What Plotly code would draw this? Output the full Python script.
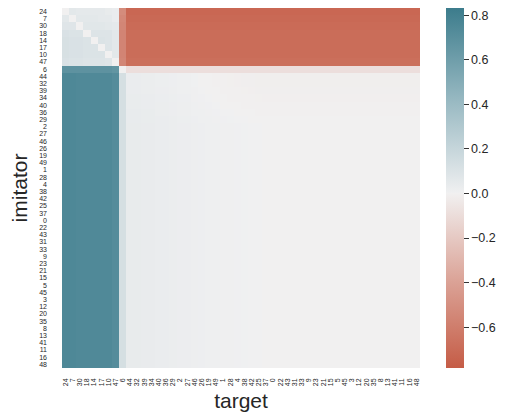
import plotly.graph_objects as go

# ---- labels (same order for imitator rows and target columns) ----
group_a = ["24", "7", "30", "18", "14", "17", "10", "47"]
pivot = ["6"]
group_b = ["44", "32", "39", "34", "40", "36", "29", "2", "27", "46", "26", "19",
           "49", "1", "28", "4", "38", "42", "25", "37", "0", "22", "43", "31",
           "33", "9", "23", "21", "15", "5", "45", "3", "12", "20", "35", "8",
           "13", "41", "11", "16", "48"]
labels = group_a + pivot + group_b

# ---- values ----
a_a = [
    [0.00, 0.06, 0.05, 0.05, 0.05, 0.05, 0.04, 0.03],
    [0.06, 0.00, 0.06, 0.06, 0.06, 0.05, 0.05, 0.03],
    [0.08, 0.08, 0.00, 0.07, 0.07, 0.07, 0.06, 0.05],
    [0.11, 0.10, 0.10, 0.00, 0.09, 0.09, 0.09, 0.06],
    [0.12, 0.11, 0.11, 0.10, 0.00, 0.10, 0.09, 0.06],
    [0.12, 0.11, 0.11, 0.10, 0.10, 0.00, 0.09, 0.06],
    [0.12, 0.11, 0.11, 0.10, 0.10, 0.10, 0.00, 0.06],
    [0.11, 0.10, 0.10, 0.09, 0.09, 0.09, 0.08, 0.00],
]
a_to_pivot = [-0.52, -0.54, -0.55, -0.56, -0.56, -0.56, -0.56, -0.55]
a_to_b = [-0.72, -0.71, -0.70, -0.69, -0.69, -0.69, -0.69, -0.68]
pivot_to_a = [0.68, 0.68, 0.68, 0.68, 0.68, 0.68, 0.68, 0.66]
pivot_self = 0.0
pivot_to_b = -0.09
b_to_a = [0.75, 0.75, 0.74, 0.74, 0.74, 0.74, 0.74, 0.72]
b_to_pivot = 0.13
b_col = [0.04, 0.04, 0.035, 0.035, 0.03, 0.03, 0.025, 0.02, 0.02, 0.015, 0.012,
         0.01, 0.008, 0.006, 0.005, 0.004, 0.003, 0.002, 0.001, 0.0, 0.0,
         0.0, 0.0, 0.0, 0.0, 0.0, 0.0, 0.0, 0.0, 0.0, 0.0,
         0.0, 0.0, 0.0, 0.0, 0.0, 0.0, 0.0, 0.0, 0.0, 0.0]
b_row = [-0.012, -0.012, -0.01, -0.008, -0.006, -0.004, -0.002, 0.0, 0.0,
         0.0, 0.0, 0.0, 0.0, 0.0, 0.0, 0.0, 0.0, 0.0, 0.0, 0.0,
         0.0, 0.0, 0.0, 0.0, 0.0, 0.0, 0.0, 0.0, 0.0, 0.0, 0.0, 0.0, 0.0, 0.0,
         0.0, 0.0, 0.0, 0.0, 0.0, 0.0, 0.0]

z = []
for i in range(len(group_a)):
    z.append(a_a[i] + [a_to_pivot[i]] + [a_to_b[i]] * len(group_b))
z.append(pivot_to_a + [pivot_self] + [pivot_to_b] * len(group_b))
for i in range(len(group_b)):
    z.append(b_to_a + [b_to_pivot] + [b_col[j] + b_row[i] for j in range(len(group_b))])

zmin, zmax = -0.783, 0.832
mid = -zmin / (zmax - zmin)
colorscale = [
    [0.0, "rgb(197,92,70)"],
    [mid * 0.5, "rgb(219,163,151)"],
    [mid, "rgb(241,240,240)"],
    [mid + 1e-6, "rgb(240,240,241)"],
    [mid + (1 - mid) * 0.5, "rgb(152,185,194)"],
    [1.0, "rgb(60,124,140)"],
]

fig = go.Figure(go.Heatmap(
    z=z, x=labels, y=labels, zmin=zmin, zmax=zmax, colorscale=colorscale,
    colorbar=dict(
        thickness=18, len=1.0, lenmode="fraction", y=0.5, yanchor="middle",
        x=1.0726, xanchor="left", xpad=0, ypad=0, outlinewidth=0,
        ticks="outside", ticklen=5, tickwidth=1.2, tickcolor="#333",
        tickvals=[-0.6, -0.4, -0.2, 0.0, 0.2, 0.4, 0.6, 0.8],
        tickformat=".1f",
        tickfont=dict(family="Liberation Sans, Arial", size=12.5, color="#262626"),
    ),
))

fig.update_layout(
    width=498, height=411,
    margin=dict(l=54, r=86, t=0, b=51),
    paper_bgcolor="white", plot_bgcolor="white",
    font=dict(family="Liberation Sans, Arial", color="#262626"),
    xaxis=dict(type="category", tickmode="array", tickvals=labels, ticktext=labels,
               tickangle=-90, ticks="", showgrid=False,
               zeroline=False, showline=False, ticklabelstandoff=8,
               tickfont=dict(size=7), automargin=False,
               title=dict(text="target", font=dict(size=21), standoff=8)),
    yaxis=dict(type="category", tickmode="array", tickvals=labels, ticktext=labels,
               autorange="reversed", ticks="", showgrid=False,
               zeroline=False, showline=False, ticklabelstandoff=14,
               tickfont=dict(size=7), automargin=False,
               title=dict(text="imitator", font=dict(size=21), standoff=6)),
)

fig.write_html("out.html")
